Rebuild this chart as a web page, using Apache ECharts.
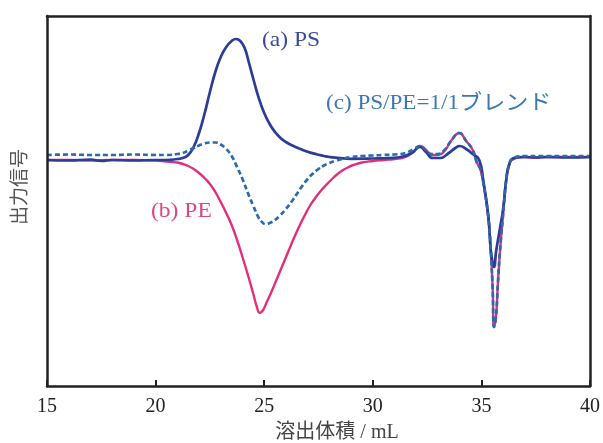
<!DOCTYPE html>
<html>
<head>
<meta charset="utf-8">
<script src="https://cdn.jsdelivr.net/npm/echarts@6/dist/echarts.min.js"></script>
<style>
html,body{margin:0;padding:0;background:#fff;}
#c{width:603px;height:443px;}
</style>
</head>
<body>
<div id="c"></div>
<script>
const xTicks = [15, 20, 25, 30, 35, 40];

const psData = [
  [15,-1],[16,-1.5],[17,-0.5],[17.5,-2],[18,-1],[19,-1.5],[20,-1],[20.5,-1],[21.0,0],
  [21.25,1],[21.5,4],[21.75,12],[22.0,26],[22.25,45],[22.5,67],[22.75,87],[23.0,102],
  [23.25,112],[23.5,118],[23.7,120],[23.9,118],[24.1,111],[24.3,96],[24.5,80],[24.75,61],
  [25.0,46],[25.25,35],[25.5,27],[25.75,21],[26.0,17],[26.25,14],[26.5,11.5],[26.75,9.3],
  [27.0,7.3],[27.25,5.6],[27.5,4.2],[27.75,3],[28.0,2],[28.5,0.8],[29,0.2],
  [30,0.5],[30.8,1],[31.3,2],[31.8,6],[32.17,12],[32.45,7],[32.75,1],[33.1,1],[33.5,6],
  [33.8,11],[34.0,13],[34.3,10],[34.6,5],[34.9,-1],[35.09,-22],[35.32,-58],[35.43,-91],
  [35.52,-104],[35.58,-108],[35.68,-92],[35.85,-70],[36.0,-50],[36.16,-18],[36.3,-4],
  [36.5,1],[37,2],[37.5,1.5],[38,2],[39,1.5],[40,2]
];

const peData = [
  [15,-1],[16,-1],[17,-1.5],[18,-1],[19,-1],[20,-1.5],[20.5,-2.5],[20.75,-3],[21.0,-3.5],
  [21.25,-5],[21.5,-7],[21.75,-10],[22.0,-14],[22.25,-19],[22.5,-25],[22.75,-33],[23.0,-43],
  [23.25,-54],[23.5,-66],[23.75,-81],[24.0,-98],[24.25,-116],[24.5,-135],[24.65,-147],
  [24.8,-154],[24.95,-151],[25.1,-144],[25.35,-132],[25.6,-119],[25.85,-106],[26.1,-93],
  [26.35,-80],[26.6,-68],[26.85,-57],[27.1,-47],[27.35,-39],[27.6,-32],[27.85,-26],
  [28.1,-20.5],[28.35,-15.5],[28.6,-11.5],[28.85,-8.5],[29.1,-6],[29.5,-3.5],[30.0,-2],
  [30.5,-1],[31,0],[31.5,2],[31.9,8],[32.17,13],
  [32.45,9],[32.71,4],[33.0,4],[33.3,8],[33.6,18],[33.98,26],[34.3,18],[34.6,9],[34.78,-3],
  [34.95,-10],[35.09,-24],[35.32,-58],[35.43,-91],[35.52,-131],[35.58,-168],[35.67,-158],
  [35.76,-124],[35.86,-91],[35.99,-58],[36.16,-18],[36.3,-5],[36.4,-1],[36.9,2],[37.5,1.5],
  [38,2],[39,2],[40,2]
];

const blendData = [
  [15,4],[16,4.5],[17,4],[18,4],[19,4.5],[20,4],[20.5,4],[21.0,5],[21.25,6],[21.5,8.5],
  [21.75,11],[22.0,13.5],[22.25,15.5],[22.5,16.5],[22.75,16.5],[23.0,14.5],[23.25,10],
  [23.5,3],[23.75,-8],[24.0,-20],[24.25,-34],[24.5,-47],[24.75,-59],[24.9,-63],[25.05,-65],
  [25.25,-64],[25.5,-61],[25.75,-56],[26.0,-50],[26.25,-43],[26.5,-35],[26.75,-27],
  [27.0,-20],[27.25,-14.5],[27.5,-10],[27.75,-6.5],[28.0,-4],[28.25,-2],[28.5,-0.5],
  [28.75,1],[29.0,2],[29.5,3],[30.0,3.5],[30.5,4],[31,4.5],[31.5,6],[31.9,10],[32.17,13],
  [32.45,9],[32.71,5],[33,5],[33.3,9],[33.6,18],[33.98,26],[34.3,18],[34.6,9],[34.78,-3],
  [34.95,-10],[35.09,-24],[35.32,-58],[35.43,-91],[35.52,-131],[35.58,-168],[35.67,-158],
  [35.76,-124],[35.86,-91],[35.99,-58],[36.16,-18],[36.3,-4],[36.4,0],[36.9,3],[38,3],
  [39,3],[40,3]
];

const labelA = '(a) PS';
const labelB = '(b) PE';
const labelC = '(c) PS/PE=1/1ブレンド';
const xName = '溶出体積 / mL';
const yName = '出力信号';

const serif = '"Liberation Serif","Noto Sans CJK JP",serif';
const axisColor = '#222';
const chart = echarts.init(document.getElementById('c'), null, {renderer:'canvas'});
chart.setOption({
  animation: false,
  backgroundColor: '#fff',
  grid: {left: 47, right: 13, top: 16, bottom: 57, show: false},
  xAxis: [{
    type: 'value', min: 15, max: 40, interval: 5, position: 'bottom', z: 10,
    axisLine: {show: true, onZero: false, lineStyle: {color: axisColor, width: 2.5}},
    axisTick: {show: true, inside: true, length: 6, customValues: xTicks,
      lineStyle: {color: axisColor, width: 2}},
    axisLabel: {show: true, inside: false, fontFamily: serif, fontSize: 20, color: '#222',
      margin: 11, customValues: xTicks},
    splitLine: {show: false}
  }, {
    type: 'value', min: 15, max: 40, interval: 5, position: 'top', z: 10,
    axisLine: {show: true, onZero: false, lineStyle: {color: axisColor, width: 2.5}},
    axisTick: {show: false}, axisLabel: {show: false}, splitLine: {show: false}
  }],
  yAxis: [{
    type: 'value', min: -227, max: 143, position: 'left', z: 10,
    axisLine: {show: true, onZero: false, lineStyle: {color: axisColor, width: 2.5}},
    axisTick: {show: false}, axisLabel: {show: false}, splitLine: {show: false}
  }, {
    type: 'value', min: 0, max: 1, position: 'right', z: 10,
    axisLine: {show: true, onZero: false, lineStyle: {color: axisColor, width: 2.5}},
    axisTick: {show: false}, axisLabel: {show: false}, splitLine: {show: false}
  }],
  series: [
    {type: 'line', data: peData, showSymbol: false, smooth: 0.5,
      lineStyle: {color: '#e0307c', width: 2.4}, z: 2},
    {type: 'line', data: psData, showSymbol: false, smooth: 0.5,
      lineStyle: {color: '#2d3c96', width: 2.7}, z: 3},
    {type: 'line', data: blendData, showSymbol: false, smooth: 0.5,
      lineStyle: {color: '#2b6aab', width: 2.7, type: [5, 3]}, z: 4}
  ],
  graphic: [
    {type: 'text', x: 262, y: 40, scaleX: 1.12, style: {text: labelA, fontFamily: serif, fontSize: 21,
      fill: '#3a4a9c', textVerticalAlign: 'middle', textAlign: 'left'}},
    {type: 'text', x: 151, y: 211, scaleX: 1.12, style: {text: labelB, fontFamily: serif, fontSize: 21,
      fill: '#dd4583', textVerticalAlign: 'middle', textAlign: 'left'}},
    {type: 'text', x: 326, y: 103, scaleX: 1.1, style: {text: labelC, fontFamily: serif, fontSize: 21,
      fill: '#3b78b5', textVerticalAlign: 'middle', textAlign: 'left'}},
    {type: 'text', x: 337, y: 433, style: {text: xName, fontFamily: serif, fontSize: 20,
      fill: '#444', textVerticalAlign: 'middle', textAlign: 'center'}},
    {type: 'text', x: 19, y: 187, rotation: Math.PI / 2, style: {text: yName,
      fontFamily: '"Noto Sans CJK JP",sans-serif', fontSize: 19, fill: '#555',
      textVerticalAlign: 'middle', textAlign: 'center'}}
  ]
});
</script>
</body>
</html>
